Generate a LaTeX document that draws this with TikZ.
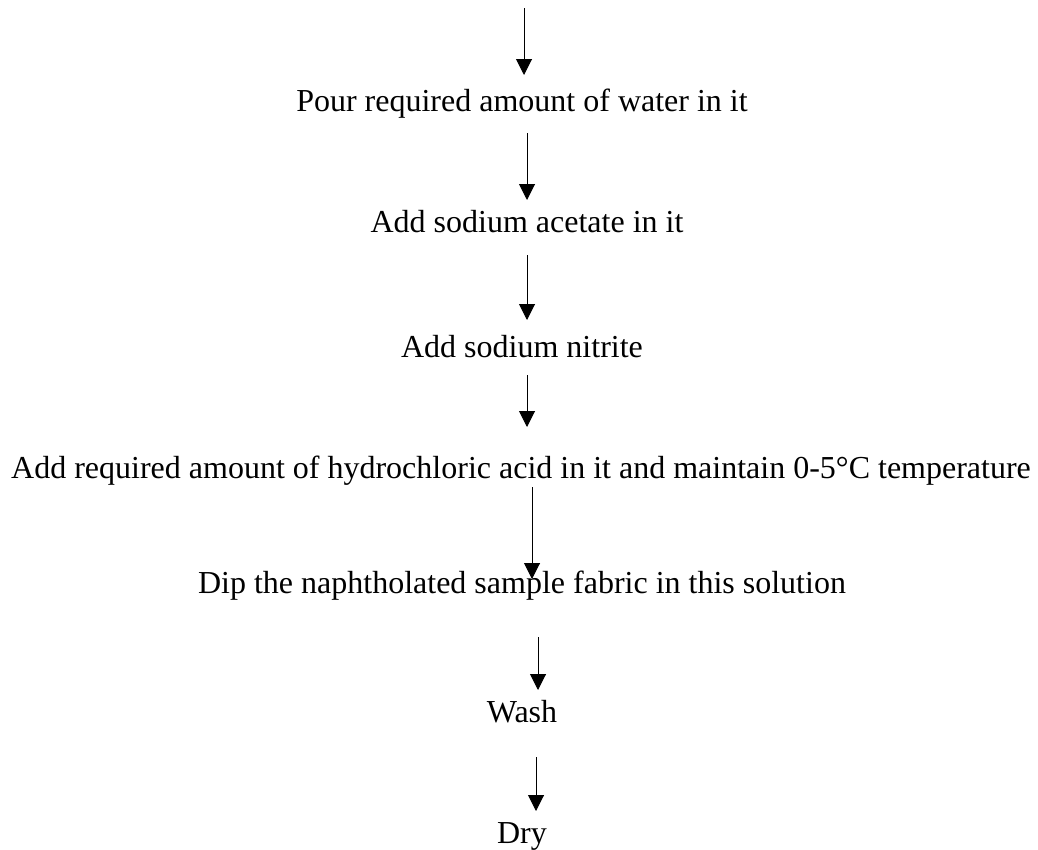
\documentclass[tikz,border=0pt]{standalone}
\usepackage{fontspec}
\setmainfont{Liberation Serif}
\usetikzlibrary{arrows.meta}
\begin{document}
\begin{tikzpicture}[x=1pt,y=-1pt,
  steptext/.style={anchor=base,inner sep=0pt,font=\fontsize{32}{38}\selectfont},
  flow/.style={line width=1pt,-{Triangle[width=16pt,length=16pt]}}]
\useasboundingbox (0,0) rectangle (1038,849);
\node[steptext] (t1) at (522,111) {Pour required amount of water in it};
\node[steptext] (t2) at (527,232) {Add sodium acetate in it};
\node[steptext] (t3) at (522,357) {Add sodium nitrite};
\node[steptext] (t4) at (521,478) {Add required amount of hydrochloric acid in it and maintain 0-5°C temperature};
\node[steptext] (t5) at (522,593) {Dip the naphtholated sample fabric in this solution};
\node[steptext] (t6) at (522,722) {Wash};
\node[steptext] (t7) at (522,843) {Dry};
\coordinate (s0) at (524,8);   \coordinate (e0) at (524,75);
\coordinate (s1) at (527,133); \coordinate (e1) at (527,200);
\coordinate (s2) at (527,255); \coordinate (e2) at (527,320);
\coordinate (s3) at (527,375); \coordinate (e3) at (527,427);
\coordinate (s4) at (532,487); \coordinate (e4) at (532,579);
\coordinate (s5) at (538,637); \coordinate (e5) at (538,690);
\coordinate (s6) at (536,757); \coordinate (e6) at (536,811);
\foreach \i in {0,...,6} {\draw[flow] (s\i) -- (e\i);}
\end{tikzpicture}
\end{document}
